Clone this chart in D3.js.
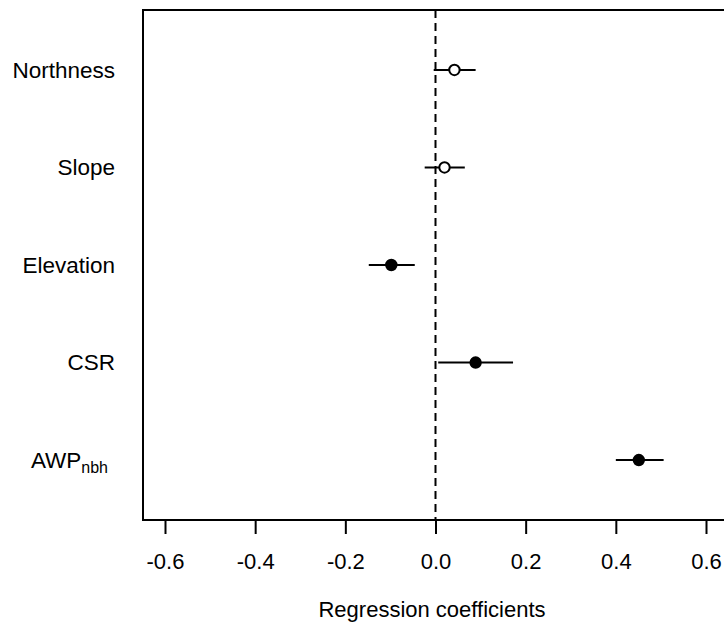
<!DOCTYPE html>
<html>
<head>
<meta charset="utf-8">
<script src="https://cdn.jsdelivr.net/npm/d3@7"></script>
<style>
  body { margin: 0; background: #fff; }
  text { font-family: "Liberation Sans", Arial, sans-serif; fill: #000; }
</style>
</head>
<body>
<script>
// Predictors, top to bottom
var predictors = ["Northness", "Slope", "Elevation", "CSR", "AWP"];
// Coefficient estimates and interval bounds
var estimates = [0.042, 0.020, -0.098, 0.089, 0.451];
var lower = [-0.004, -0.024, -0.148, 0.006, 0.400];
var upper = [0.089, 0.065, -0.046, 0.172, 0.506];
// Open circle = not significant
var significant = [false, false, true, true, true];
var xTicks = [-0.6, -0.4, -0.2, 0.0, 0.2, 0.4, 0.6];

var width = 724, height = 628;
var box = {left: 143, top: 10, right: 726, bottom: 520};

var svg = d3.select("body").append("svg")
    .attr("width", width)
    .attr("height", height);

var x = d3.scaleLinear()
    .domain([-0.6, 0.6])
    .range([165, 706]);

var y = d3.scalePoint()
    .domain(predictors)
    .range([box.top, box.bottom])
    .padding(0.615);

var rows = predictors.map(function(p, i) {
    return {name: p, est: estimates[i], lo: lower[i], hi: upper[i], sig: significant[i]};
});

// zero reference line
svg.append("line")
    .attr("x1", x(0)).attr("x2", x(0))
    .attr("y1", box.top).attr("y2", box.bottom)
    .attr("stroke", "#000")
    .attr("stroke-width", 2)
    .attr("stroke-dasharray", "8,5");

// error bars
svg.selectAll("line.ci")
    .data(rows)
    .enter().append("line")
    .attr("class", "ci")
    .attr("x1", function(d) { return x(d.lo); })
    .attr("x2", function(d) { return x(d.hi); })
    .attr("y1", function(d) { return y(d.name); })
    .attr("y2", function(d) { return y(d.name); })
    .attr("stroke", "#000")
    .attr("stroke-width", 2);

// points
svg.selectAll("circle.est")
    .data(rows)
    .enter().append("circle")
    .attr("class", "est")
    .attr("cx", function(d) { return x(d.est); })
    .attr("cy", function(d) { return y(d.name); })
    .attr("r", 5.2)
    .attr("fill", function(d) { return d.sig ? "#000" : "#fff"; })
    .attr("stroke", "#000")
    .attr("stroke-width", 2);

// plot box
svg.append("rect")
    .attr("x", box.left)
    .attr("y", box.top)
    .attr("width", box.right - box.left)
    .attr("height", box.bottom - box.top)
    .attr("fill", "none")
    .attr("stroke", "#000")
    .attr("stroke-width", 2);

// x axis
var xAxis = svg.append("g")
    .attr("transform", "translate(0," + box.bottom + ")")
    .call(d3.axisBottom(x)
        .tickValues(xTicks)
        .tickFormat(function(d) { return d3.format(".1f")(d).replace("\u2212", "-"); })
        .tickSize(14)
        .tickPadding(19));
xAxis.select(".domain").remove();
xAxis.selectAll(".tick line").attr("stroke-width", 2);
xAxis.selectAll(".tick text")
    .style("font-family", "'Liberation Sans', Arial, sans-serif")
    .style("font-size", "22px");

// predictor labels
var labels = svg.selectAll("text.pred")
    .data(rows)
    .enter().append("text")
    .attr("class", "pred")
    .attr("x", 115)
    .attr("y", function(d) { return y(d.name); })
    .attr("dy", "0.35em")
    .attr("text-anchor", "end")
    .style("font-size", "22.5px")
    .text(function(d) { return d.name; });

labels.filter(function(d) { return d.name === "AWP"; })
    .attr("x", 108)
    .append("tspan")
    .attr("dy", "0.3em")
    .style("font-size", "16px")
    .text("nbh");

// axis title
svg.append("text")
    .attr("x", 432)
    .attr("y", 617)
    .attr("text-anchor", "middle")
    .style("font-size", "22px")
    .text("Regression coefficients");
</script>
</body>
</html>
